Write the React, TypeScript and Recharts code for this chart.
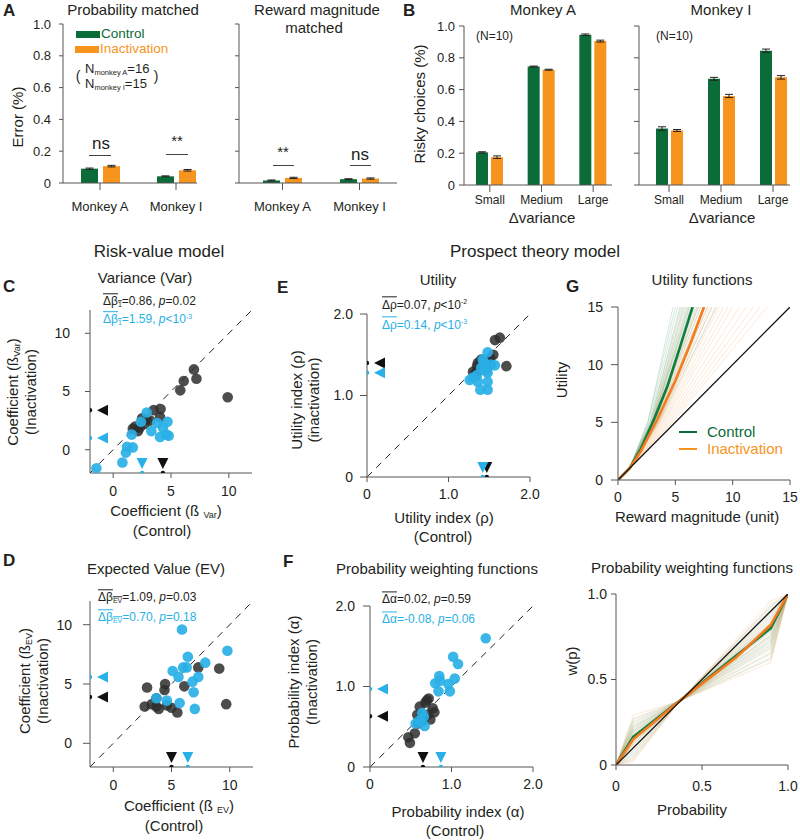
import React from 'react';
import {
  BarChart, Bar, ErrorBar, XAxis, YAxis, ScatterChart, Scatter, ReferenceLine, LineChart, Line,
} from 'recharts';

const FONT = '"Liberation Sans", Arial, Helvetica, sans-serif';
const GREEN = '#0b6b39';
const ORANGE = '#f7941e';
const BLUE = '#29b0e6';
const INK = '#231f20';
const AXIS = '#555555';

// ---- panel A: error rates
const monkeys = ['Monkey A', 'Monkey I'];
const probCtrl = [0.09, 0.042];
const probInact = [0.106, 0.08];
const probCtrlErr = [0.004, 0.003];
const probInactErr = [0.005, 0.005];
const magCtrl = [0.016, 0.024];
const magInact = [0.032, 0.028];
const magCtrlErr = [0.003, 0.003];
const magInactErr = [0.004, 0.004];

// ---- panel B: risky choices
const varianceLevels = ['Small', 'Medium', 'Large'];
const riskyCtrlA = [0.205, 0.745, 0.945];
const riskyInactA = [0.175, 0.725, 0.905];
const riskyCtrlErrA = [0.004, 0.003, 0.005];
const riskyInactErrA = [0.008, 0.003, 0.006];
const riskyCtrlI = [0.355, 0.668, 0.845];
const riskyInactI = [0.343, 0.56, 0.677];
const riskyCtrlErrI = [0.011, 0.009, 0.01];
const riskyInactErrI = [0.006, 0.01, 0.011];

// ---- panel C: variance coefficient [control, inactivation]
const varBlack = [[6.98, 6.9], [6.1, 5.9], [7.2, 6.1], [5.8, 5.1], [9.9, 4.5], [4.1, 3.5], [3.5, 3.4], [4.05, 2.8], [2.5, 2.7], [2.9, 2.6], [1.9, 2.0], [2.15, 1.6], [2.3, 1.9], [2.7, 2.2], [3.2, 2.5], [1.7, 1.8]];
const varBlue = [[2.9, 3.2], [3.8, 2.3], [4.7, 2.4], [4.3, 1.9], [4.6, 1.3], [4.05, 1.1], [4.8, 1.2], [1.6, 1.3], [1.2, 0.25], [1.7, 0.2], [1.1, -0.25], [0.8, -1.1], [-1.45, -1.6], [3.3, 1.6], [2.4, 2.4]];
const varMeans = { black: [4.3, 3.4], blue: [2.5, 1.0] };

// ---- panel D: expected value coefficient
const evBlack = [[2.9, 4.7], [4.45, 5.0], [4.4, 4.5], [6.1, 4.8], [7.3, 6.4], [9.1, 6.3], [9.7, 3.3], [2.7, 3.1], [3.3, 3.3], [3.7, 3.1], [3.9, 2.9], [4.6, 3.2], [5.0, 3.0], [5.5, 2.6], [3.7, 3.8]];
const evBlue = [[5.9, 9.6], [6.4, 7.3], [5.1, 6.1], [6.0, 6.4], [6.3, 6.4], [7.9, 6.8], [9.8, 7.8], [6.8, 5.2], [7.3, 5.6], [5.6, 5.6], [6.9, 4.3], [4.6, 3.6], [5.7, 3.4], [7.0, 2.9], [3.7, 3.8]];
const evMeans = { black: [5.0, 3.9], blue: [6.4, 5.6] };

// ---- panel E: utility index
const rhoBlack = [[1.63, 1.71], [1.57, 1.68], [1.71, 1.36], [1.3, 1.29], [1.36, 1.4], [1.51, 1.46], [1.42, 1.35], [1.48, 1.42], [1.38, 1.32], [1.45, 1.38], [1.4, 1.44], [1.33, 1.27], [1.55, 1.5], [1.47, 1.33], [1.35, 1.36]];
const rhoBlue = [[1.48, 1.53], [1.42, 1.44], [1.57, 1.37], [1.26, 1.19], [1.36, 1.17], [1.48, 1.28], [1.48, 1.17], [1.48, 1.07], [1.39, 1.07], [1.35, 1.25], [1.45, 1.31], [1.3, 1.22], [1.44, 1.4], [1.52, 1.38], [1.4, 1.34]];
const rhoMeans = { black: [1.47, 1.4], blue: [1.42, 1.28] };

// ---- panel F: probability index
const alphaBlack = [[0.7, 0.83], [0.72, 0.85], [0.61, 0.75], [0.77, 0.73], [0.79, 0.68], [0.71, 0.65], [0.74, 0.59], [0.58, 0.65], [0.55, 0.42], [0.47, 0.37], [0.49, 0.3], [0.65, 0.58], [0.59, 0.54], [0.63, 0.62], [0.68, 0.8]];
const alphaBlue = [[1.42, 1.6], [1.02, 1.37], [1.08, 1.28], [0.85, 1.13], [0.8, 1.04], [0.86, 1.07], [0.96, 1.03], [1.04, 1.1], [0.84, 0.94], [0.98, 0.94], [0.64, 0.67], [0.66, 0.62], [0.56, 0.54], [0.67, 0.51], [0.61, 0.58]];
const alphaMeans = { black: [0.65, 0.63], blue: [0.87, 0.97] };

// ---- panel G: utility functions, thin lines as [reward at utility 5, reward at utility 15]
const utilThinCtrl = [[2.6, 4.8], [2.6, 5.0], [2.7, 5.2], [2.8, 5.4], [2.8, 5.5], [2.9, 5.7], [2.9, 5.8], [2.95, 6.0], [3.0, 6.1], [3.0, 6.2], [3.0, 6.3], [3.05, 6.4], [3.1, 6.6], [3.1, 6.7], [3.2, 6.9], [3.2, 7.0], [3.3, 7.2], [3.35, 7.5], [3.4, 7.8], [3.5, 8.2], [3.6, 8.6]];
const utilThinInact = [[2.85, 5.6], [2.95, 5.9], [3.0, 6.2], [3.1, 6.5], [3.2, 6.8], [3.25, 7.0], [3.3, 7.2], [3.35, 7.4], [3.4, 7.6], [3.45, 7.8], [3.5, 8.0], [3.55, 8.2], [3.6, 8.5], [3.7, 8.8], [3.8, 9.2], [3.9, 9.6], [4.0, 10.0], [4.15, 10.6], [4.3, 11.2], [4.45, 11.8], [4.6, 12.4], [4.75, 13.0]];
const utilCtrlMean = [[0, 0], [1, 1], [2, 2.7], [3.2, 5.4], [4.3, 8.1], [5.4, 11.5], [6.5, 15]];
const utilInactMean = [[0, 0], [1, 1], [2, 2.5], [3.5, 5.4], [5, 8.6], [6.3, 11.8], [7.5, 15]];

// ---- panel H: probability weighting, thin lines as [w(0.1), w(0.9)]
const pwThinCtrl = [[0.27, 0.62], [0.25, 0.65], [0.23, 0.68], [0.22, 0.7], [0.21, 0.72], [0.2, 0.73], [0.19, 0.75], [0.18, 0.76], [0.17, 0.78], [0.16, 0.79], [0.15, 0.8], [0.14, 0.82], [0.13, 0.83], [0.12, 0.85], [0.1, 0.87], [0.08, 0.89], [0.06, 0.91], [0.04, 0.93]];
const pwThinInact = [[0.29, 0.6], [0.26, 0.63], [0.24, 0.66], [0.22, 0.69], [0.2, 0.71], [0.19, 0.74], [0.17, 0.76], [0.16, 0.78], [0.15, 0.8], [0.14, 0.81], [0.13, 0.83], [0.12, 0.84], [0.1, 0.86], [0.09, 0.88], [0.07, 0.9], [0.05, 0.92], [0.03, 0.94], [0.02, 0.96]];
const pwCtrlMean = [[0, 0], [0.1, 0.165], [0.37, 0.375], [0.7, 0.64], [0.9, 0.8], [1, 1]];
const pwInactMean = [[0, 0], [0.1, 0.15], [0.37, 0.375], [0.7, 0.63], [0.9, 0.82], [1, 1]];

type Box = { x0: number; y0: number; x1: number; y1: number };
const PL = 60, PT = 12, PR = 14, PB = 40;

const frame = (b: Box) => ({
  style: { position: 'absolute' as const, left: b.x0 - PL, top: b.y0 - PT },
  width: b.x1 - b.x0 + PL + PR,
  height: b.y1 - b.y0 + PT + PB,
});
const margin = { top: PT, right: PR, bottom: 0, left: 0 };
const pts = (a: number[][]) => a.map(([x, y]) => ({ x, y }));
const fmt1 = (v: number) => (v === 0 ? '0' : v.toFixed(1));

function T({ x, y, size = 14, color = INK, anchor = 'middle', rotate = false, bold = false, children }: any) {
  const tx = anchor === 'middle' ? '-50%' : anchor === 'end' ? '-100%' : '0';
  return (
    <div style={{
      position: 'absolute', left: x, top: y, transform: `translate(${tx},-50%)${rotate ? ' rotate(-90deg)' : ''}`,
      fontSize: size, lineHeight: 1.1, whiteSpace: 'nowrap', color, fontWeight: bold ? 700 : 400, fontFamily: FONT,
    }}>{children}</div>
  );
}

const HLine = ({ x0, x1, y }: { x0: number; x1: number; y: number }) => (
  <div style={{ position: 'absolute', left: x0, top: y, width: x1 - x0, height: 1, background: '#444' }} />
);

function BarPanel(p: {
  box: Box; cats: string[]; ctrl: number[]; inact: number[]; ctrlErr: number[]; inactErr: number[];
  padL: number; padR: number; barSize: number; barGap: number; labels: boolean; font: number;
  xSize: number; xMargin: number; ySize: number; yMargin: number;
}) {
  const rows = p.cats.map((c, i) => ({ name: c, ctrl: p.ctrl[i], inact: p.inact[i], ce: p.ctrlErr[i], ie: p.inactErr[i] }));
  const f = frame(p.box);
  return (
    <div style={f.style}>
      <BarChart width={f.width} height={f.height} data={rows} margin={margin} barSize={p.barSize} barGap={p.barGap}>
        <XAxis dataKey="name" height={PB} interval={0} padding={{ left: p.padL, right: p.padR }}
          tick={{ fill: INK, fontSize: p.font, fontFamily: FONT }} tickLine={{ stroke: AXIS }} axisLine={{ stroke: AXIS }}
          tickSize={p.xSize} tickMargin={p.xMargin} />
        <YAxis width={PL} type="number" domain={[0, 1]} ticks={[0, 0.2, 0.4, 0.6, 0.8, 1]}
          tickFormatter={(v: number) => (p.labels ? fmt1(v) : '')}
          tick={{ fill: INK, fontSize: 13, fontFamily: FONT }} tickLine={{ stroke: AXIS }} axisLine={{ stroke: AXIS }}
          tickSize={p.ySize} tickMargin={p.yMargin} />
        <Bar dataKey="ctrl" fill={GREEN} isAnimationActive={false}>
          <ErrorBar dataKey="ce" width={4} stroke="#222" strokeWidth={1} />
        </Bar>
        <Bar dataKey="inact" fill={ORANGE} isAnimationActive={false}>
          <ErrorBar dataKey="ie" width={4} stroke="#222" strokeWidth={1} />
        </Bar>
      </BarChart>
    </div>
  );
}

const dotShape = (color: string, opacity: number) => (s: any) => (
  <circle cx={s.cx} cy={s.cy} r={5.3} fill={color} fillOpacity={opacity} />
);
const leftMark = (color: string) => (s: any) => (
  <g>
    <circle cx={s.cx} cy={s.cy} r={2.2} fill={color} />
    <polygon points={`${s.cx + 7},${s.cy} ${s.cx + 18},${s.cy - 5.5} ${s.cx + 18},${s.cy + 5.5}`} fill={color} />
  </g>
);
const downMark = (color: string) => (s: any) => (
  <g>
    <circle cx={s.cx} cy={s.cy} r={2.2} fill={color} />
    <polygon points={`${s.cx},${s.cy - 4} ${s.cx - 5.5},${s.cy - 15} ${s.cx + 5.5},${s.cy - 15}`} fill={color} />
  </g>
);

function ScatterPanel(p: {
  box: Box; lo: number; hi: number; ticks: number[]; fmt: (v: number) => string;
  black: number[][]; blue: number[][]; means: { black: number[]; blue: number[] };
  xMargin: number; yMargin: number; ySize: number;
}) {
  const f = frame(p.box);
  const tick = { fill: INK, fontSize: 14, fontFamily: FONT };
  return (
    <div style={f.style}>
      <ScatterChart width={f.width} height={f.height} margin={margin}>
        <XAxis type="number" dataKey="x" domain={[p.lo, p.hi]} allowDataOverflow ticks={p.ticks} tickFormatter={p.fmt}
          height={PB} tick={tick} tickLine={{ stroke: AXIS }} axisLine={{ stroke: AXIS }} tickSize={5} tickMargin={p.xMargin} />
        <YAxis type="number" dataKey="y" domain={[p.lo, p.hi]} allowDataOverflow ticks={p.ticks} tickFormatter={p.fmt}
          width={PL} tick={tick} tickLine={{ stroke: AXIS }} axisLine={{ stroke: AXIS }} tickSize={p.ySize} tickMargin={p.yMargin} />
        <ReferenceLine segment={[{ x: p.lo, y: p.lo }, { x: p.hi, y: p.hi }]} stroke="#222" strokeDasharray="7 6" strokeWidth={1} />
        <Scatter data={pts(p.black)} shape={dotShape('#2e2e2e', 0.85)} isAnimationActive={false} />
        <Scatter data={pts(p.blue)} shape={dotShape(BLUE, 0.92)} isAnimationActive={false} />
        <Scatter data={[{ x: p.lo, y: p.means.black[1] }]} shape={leftMark('#111')} isAnimationActive={false} />
        <Scatter data={[{ x: p.lo, y: p.means.blue[1] }]} shape={leftMark(BLUE)} isAnimationActive={false} />
        <Scatter data={[{ x: p.means.black[0], y: p.lo }]} shape={downMark('#111')} isAnimationActive={false} />
        <Scatter data={[{ x: p.means.blue[0], y: p.lo }]} shape={downMark(BLUE)} isAnimationActive={false} />
      </ScatterChart>
    </div>
  );
}

function CurvePanel(p: {
  box: Box; hi: number; ticks: number[]; fmt: (v: number) => string;
  thinCtrl: { x: number; y: number }[][]; thinInact: { x: number; y: number }[][];
  meanCtrl: number[][]; meanInact: number[][]; xMargin: number; yMargin: number; ySize: number;
}) {
  const f = frame(p.box);
  const tick = { fill: INK, fontSize: 14, fontFamily: FONT };
  return (
    <div style={f.style}>
      <LineChart width={f.width} height={f.height} margin={margin}>
        <XAxis type="number" dataKey="x" domain={[0, p.hi]} allowDataOverflow ticks={p.ticks} tickFormatter={p.fmt}
          height={PB} tick={tick} tickLine={{ stroke: AXIS }} axisLine={{ stroke: AXIS }} tickSize={5} tickMargin={p.xMargin} />
        <YAxis type="number" dataKey="y" domain={[0, p.hi]} allowDataOverflow ticks={p.ticks} tickFormatter={p.fmt}
          width={PL} tick={tick} tickLine={{ stroke: AXIS }} axisLine={{ stroke: AXIS }} tickSize={p.ySize} tickMargin={p.yMargin} />
        {p.thinCtrl.map((d, i) => (
          <Line key={'c' + i} data={d} dataKey="y" stroke="#3f9a6c" strokeOpacity={0.22} strokeWidth={1} dot={false} isAnimationActive={false} />
        ))}
        {p.thinInact.map((d, i) => (
          <Line key={'o' + i} data={d} dataKey="y" stroke="#f5a25a" strokeOpacity={0.25} strokeWidth={1} dot={false} isAnimationActive={false} />
        ))}
        <Line data={pts(p.meanCtrl)} dataKey="y" stroke="#0f7d40" strokeWidth={2.6} dot={false} isAnimationActive={false} />
        <Line data={pts(p.meanInact)} dataKey="y" stroke="#f47b20" strokeWidth={2.6} dot={false} isAnimationActive={false} />
        <Line data={[{ x: 0, y: 0 }, { x: p.hi, y: p.hi }]} dataKey="y" stroke="#111" strokeWidth={1.3} dot={false} isAnimationActive={false} />
      </LineChart>
    </div>
  );
}

const OL = ({ children }: any) => <span style={{ textDecoration: 'overline' }}>{children}</span>;
const Sub = ({ children, size = 7 }: any) => <span style={{ fontSize: size, verticalAlign: '-0.25em' }}>{children}</span>;
const Sup = ({ children }: any) => <span style={{ fontSize: 7, verticalAlign: '0.6em' }}>{children}</span>;

export default function App() {
  const utilCtrl = utilThinCtrl.map(([a, b]) => [{ x: 0, y: 0 }, { x: 1, y: 1 }, { x: a, y: 5 }, { x: b, y: 15 }]);
  const utilInact = utilThinInact.map(([a, b]) => [{ x: 0, y: 0 }, { x: 1, y: 1 }, { x: a, y: 5 }, { x: b, y: 15 }]);
  const pwCtrl = pwThinCtrl.map(([a, b]) => [{ x: 0, y: 0 }, { x: 0.1, y: a }, { x: 0.37, y: 0.375 }, { x: 0.9, y: b }, { x: 1, y: 1 }]);
  const pwInact = pwThinInact.map(([a, b]) => [{ x: 0, y: 0 }, { x: 0.1, y: a }, { x: 0.37, y: 0.375 }, { x: 0.9, y: b }, { x: 1, y: 1 }]);

  return (
    <div style={{ position: 'absolute', left: 0, top: 0, width: 800, height: 840, background: '#fff', overflow: 'hidden', fontFamily: FONT }}>
      {/* A */}
      <BarPanel box={{ x0: 63, y0: 24, x1: 197, y1: 183 }} cats={monkeys} ctrl={probCtrl} inact={probInact}
        ctrlErr={probCtrlErr} inactErr={probInactErr} padL={-1} padR={-17} barSize={17} barGap={5} labels font={13}
        xSize={7} xMargin={12} ySize={4} yMargin={8} />
      <BarPanel box={{ x0: 239, y0: 24, x1: 397, y1: 183 }} cats={monkeys} ctrl={magCtrl} inact={magInact}
        ctrlErr={magCtrlErr} inactErr={magInactErr} padL={5} padR={-1} barSize={17} barGap={5} labels={false} font={13}
        xSize={7} xMargin={12} ySize={4} yMargin={8} />
      <T x={3} y={11} size={17} bold anchor="start">A</T>
      <T x={133} y={10} size={15}>Probability matched</T>
      <T x={317} y={10} size={15}>Reward magnitude</T>
      <T x={314} y={28} size={15}>matched</T>
      <T x={18} y={117} size={15} rotate>Error (%)</T>
      <div style={{ position: 'absolute', left: 76, top: 31, width: 24, height: 7, background: GREEN }} />
      <T x={101} y={34} size={13.5} color={GREEN} anchor="start">Control</T>
      <div style={{ position: 'absolute', left: 75, top: 46, width: 24, height: 7, background: ORANGE }} />
      <T x={100} y={49} size={13.5} color={ORANGE} anchor="start">Inactivation</T>
      <T x={78} y={77} size={14} anchor="middle">(</T>
      <T x={85} y={70} size={13} anchor="start">N<Sub size={7.5}>monkey A</Sub>=16</T>
      <T x={85} y={85} size={13} anchor="start">N<Sub size={7.5}>monkey I</Sub>=15</T>
      <T x={156} y={77} size={14} anchor="middle">)</T>
      <T x={101} y={144} size={17}>ns</T>
      <HLine x0={89} x1={111} y={155} />
      <T x={177} y={141} size={15}>**</T>
      <HLine x0={166} x1={188} y={154} />
      <T x={283} y={152} size={15}>**</T>
      <HLine x0={273} x1={294} y={165} />
      <T x={360} y={155} size={17}>ns</T>
      <HLine x0={350} x1={371} y={165} />

      {/* B */}
      <BarPanel box={{ x0: 464, y0: 26, x1: 612, y1: 185 }} cats={varianceLevels} ctrl={riskyCtrlA} inact={riskyInactA}
        ctrlErr={riskyCtrlErrA} inactErr={riskyInactErrA} padL={0} padR={-7} barSize={12} barGap={3} labels font={12}
        xSize={7} xMargin={3} ySize={5} yMargin={4} />
      <BarPanel box={{ x0: 639, y0: 26, x1: 790, y1: 185 }} cats={varianceLevels} ctrl={riskyCtrlI} inact={riskyInactI}
        ctrlErr={riskyCtrlErrI} inactErr={riskyInactErrI} padL={4} padR={-9} barSize={12} barGap={3} labels={false} font={12}
        xSize={7} xMargin={3} ySize={5} yMargin={4} />
      <T x={403} y={11} size={17} bold anchor="start">B</T>
      <T x={543} y={10} size={15}>Monkey A</T>
      <T x={721} y={10} size={15}>Monkey I</T>
      <T x={476} y={37} size={12} anchor="start">(N=10)</T>
      <T x={656} y={37} size={12} anchor="start">(N=10)</T>
      <T x={420} y={104} size={15} rotate>Risky choices (%)</T>
      <T x={542} y={218} size={15}>Δvariance</T>
      <T x={722} y={218} size={15}>Δvariance</T>

      {/* section headers */}
      <T x={159} y={252} size={17}>Risk-value model</T>
      <T x={535} y={252} size={17}>Prospect theory model</T>

      {/* C */}
      <ScatterPanel box={{ x0: 90, y0: 310, x1: 252, y1: 473 }} lo={-2} hi={12} ticks={[0, 5, 10]} fmt={(v) => String(v)}
        black={varBlack} blue={varBlue} means={varMeans} xMargin={8} yMargin={15} ySize={5} />
      <T x={3} y={287} size={17} bold anchor="start">C</T>
      <T x={145} y={278} size={15}>Variance (Var)</T>
      <T x={103} y={302} size={12} anchor="start"><OL>Δβ<Sub>1</Sub></OL>=0.86, <i>p</i>=0.02</T>
      <T x={103} y={320} size={12} color={BLUE} anchor="start"><OL>Δβ<Sub>1</Sub></OL>=1.59, <i>p</i>&lt;10<Sup>-3</Sup></T>
      <T x={14} y={392} size={15} rotate>Coefficient (ß<Sub size={9}>Var</Sub>)</T>
      <T x={31} y={392} size={15} rotate>(Inactivation)</T>
      <T x={166} y={512} size={15}>Coefficient (ß <Sub size={9}>Var</Sub>)</T>
      <T x={162} y={531} size={15}>(Control)</T>

      {/* E */}
      <ScatterPanel box={{ x0: 367, y0: 314, x1: 530, y1: 477 }} lo={0} hi={2} ticks={[0, 1, 2]} fmt={fmt1}
        black={rhoBlack} blue={rhoBlue} means={rhoMeans} xMargin={7} yMargin={7} ySize={7} />
      <T x={277} y={288} size={17} bold anchor="start">E</T>
      <T x={438} y={280} size={15}>Utility</T>
      <T x={382} y={305} size={12} anchor="start"><OL>Δρ</OL>=0.07, <i>p</i>&lt;10<Sup>-2</Sup></T>
      <T x={382} y={325} size={12} color={BLUE} anchor="start"><OL>Δρ</OL>=0.14, <i>p</i>&lt;10<Sup>-3</Sup></T>
      <T x={297} y={400} size={15} rotate>Utility index (ρ)</T>
      <T x={314} y={400} size={15} rotate>(inactivation)</T>
      <T x={444} y={518} size={15}>Utility index (ρ)</T>
      <T x={443} y={537} size={15}>(Control)</T>

      {/* G */}
      <CurvePanel box={{ x0: 618, y0: 307, x1: 790, y1: 480 }} hi={15} ticks={[0, 5, 10, 15]} fmt={(v) => String(v)}
        thinCtrl={utilCtrl} thinInact={utilInact} meanCtrl={utilCtrlMean} meanInact={utilInactMean}
        xMargin={7} yMargin={8} ySize={7} />
      <T x={566} y={287} size={17} bold anchor="start">G</T>
      <T x={702} y={280} size={15}>Utility functions</T>
      <T x={562} y={380} size={15} rotate>Utility</T>
      <div style={{ position: 'absolute', left: 679, top: 431, width: 18, height: 2, background: GREEN }} />
      <T x={707} y={432} size={15} color={GREEN} anchor="start">Control</T>
      <div style={{ position: 'absolute', left: 679, top: 448, width: 18, height: 2, background: ORANGE }} />
      <T x={707} y={449} size={15} color={ORANGE} anchor="start">Inactivation</T>
      <T x={697} y={517} size={15}>Reward magnitude (unit)</T>

      {/* D */}
      <ScatterPanel box={{ x0: 90, y0: 601, x1: 253, y1: 767 }} lo={-2} hi={12} ticks={[0, 5, 10]} fmt={(v) => String(v)}
        black={evBlack} blue={evBlue} means={evMeans} xMargin={8} yMargin={11} ySize={7} />
      <T x={3} y={561} size={17} bold anchor="start">D</T>
      <T x={156} y={569} size={15}>Expected Value (EV)</T>
      <T x={98} y={598} size={12} anchor="start"><OL>Δβ<Sub>EV</Sub></OL>=1.09, <i>p</i>=0.03</T>
      <T x={98} y={618} size={12} color={BLUE} anchor="start"><OL>Δβ<Sub>EV</Sub></OL>=0.70, <i>p</i>=0.18</T>
      <T x={26} y={681} size={15} rotate>Coefficient (ß<Sub size={9}>EV</Sub>)</T>
      <T x={43} y={681} size={15} rotate>(Inactivation)</T>
      <T x={179} y={807} size={15}>Coefficient (ß <Sub size={9}>EV</Sub>)</T>
      <T x={174} y={826} size={15}>(Control)</T>

      {/* F */}
      <ScatterPanel box={{ x0: 370, y0: 606, x1: 533, y1: 767 }} lo={0} hi={2} ticks={[0, 1, 2]} fmt={fmt1}
        black={alphaBlack} blue={alphaBlue} means={alphaMeans} xMargin={7} yMargin={8} ySize={7} />
      <T x={283} y={562} size={17} bold anchor="start">F</T>
      <T x={437} y={569} size={15}>Probability weighting functions</T>
      <T x={382} y={600} size={12} anchor="start"><OL>Δα</OL>=0.02, <i>p</i>=0.59</T>
      <T x={382} y={620} size={12} color={BLUE} anchor="start"><OL>Δα</OL>=-0.08, <i>p</i>=0.06</T>
      <T x={294} y={682} size={15} rotate>Probability index (α)</T>
      <T x={312} y={682} size={15} rotate>(Inactivation)</T>
      <T x={458} y={812} size={15}>Probability index (α)</T>
      <T x={455} y={831} size={15}>(Control)</T>

      {/* probability weighting */}
      <CurvePanel box={{ x0: 616, y0: 594, x1: 788, y1: 765 }} hi={1} ticks={[0, 0.5, 1]} fmt={fmt1}
        thinCtrl={pwCtrl} thinInact={pwInact} meanCtrl={pwCtrlMean} meanInact={pwInactMean}
        xMargin={11} yMargin={4} ySize={5} />
      <T x={692} y={568} size={15}>Probability weighting functions</T>
      <T x={572} y={661} size={15} rotate>w(p)</T>
      <T x={692} y={810} size={15}>Probability</T>
    </div>
  );
}
